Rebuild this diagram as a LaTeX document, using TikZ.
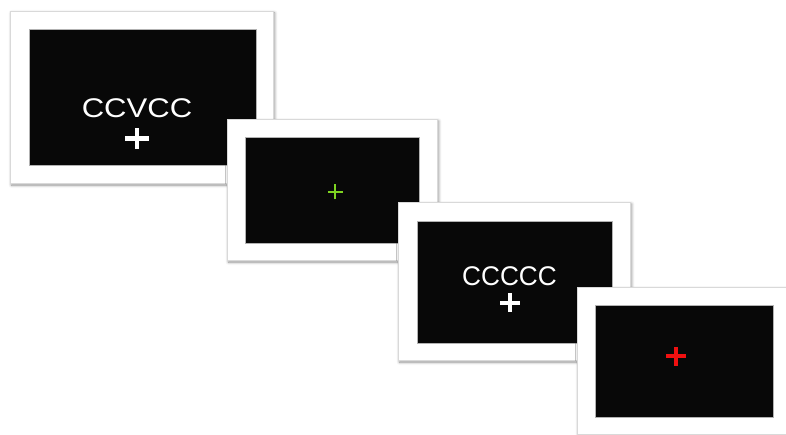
\documentclass[tikz,border=0pt]{standalone}
\usepackage{fontspec}
\setmainfont{Liberation Sans}
\usetikzlibrary{shadows.blur}
\definecolor{scr}{HTML}{080808}
\definecolor{fixgreen}{HTML}{7ED321}
\definecolor{fixred}{HTML}{F01010}
\tikzset{
  frame/.style={draw=gray!30, line width=0.6pt, fill=white, inner sep=0pt,
    blur shadow={shadow xshift=1.5pt, shadow yshift=-2pt, shadow opacity=45, shadow blur radius=3pt, shadow blur steps=6}},
  screen/.style={draw=gray!60, line width=0.5pt, fill=scr, inner sep=0pt},
  stim/.style={text=white, inner sep=0pt, font=\fontsize{27}{27}\selectfont},
  crossbar/.style={line width=#1, line cap=butt}
}
\begin{document}
\begin{tikzpicture}[x=1pt,y=-1pt]
\useasboundingbox (0,0) rectangle (786,435);
% card 1
\node[frame, minimum width=263pt, minimum height=172pt] (f1) at (141.5,97) {};
\node[screen, minimum width=227pt, minimum height=136pt] (s1) at (142.5,97) {};
\node[stim, anchor=base, xscale=1.15] (t1) at (137,118) {CCVCC};
\coordinate (c1) at (137,138.5);
\draw[white, crossbar=4.5pt] ([xshift=-12pt]c1) -- ([xshift=12pt]c1);
\draw[white, crossbar=4.5pt] ([yshift=-10.5pt]c1) -- ([yshift=10.5pt]c1);
% card 2
\node[frame, minimum width=210pt, minimum height=141pt] (f2) at (332,189.5) {};
\node[screen, minimum width=174pt, minimum height=106pt] (s2) at (332,190) {};
\coordinate (c2) at (335,192);
\draw[fixgreen, crossbar=2.6pt] ([xshift=-7.5pt]c2) -- ([xshift=7.5pt]c2);
\draw[fixgreen, crossbar=2.6pt] ([yshift=-7.5pt]c2) -- ([yshift=7.5pt]c2);
% card 3
\node[frame, minimum width=232pt, minimum height=158pt] (f3) at (514,281) {};
\node[screen, minimum width=195pt, minimum height=122pt] (s3) at (514.5,282) {};
\node[stim, anchor=base, xscale=0.97] (t3) at (509.5,286) {CCCCC};
\coordinate (c3) at (510,302.5);
\draw[white, crossbar=4pt] ([xshift=-10pt]c3) -- ([xshift=10pt]c3);
\draw[white, crossbar=4pt] ([yshift=-9.5pt]c3) -- ([yshift=9.5pt]c3);
% card 4
\node[frame, minimum width=212pt, minimum height=147pt] (f4) at (683,360.5) {};
\node[screen, minimum width=178pt, minimum height=112pt] (s4) at (684,361) {};
\coordinate (c4) at (676,356);
\draw[fixred, crossbar=4pt] ([xshift=-10pt]c4) -- ([xshift=10pt]c4);
\draw[fixred, crossbar=4pt] ([yshift=-9.5pt]c4) -- ([yshift=9.5pt]c4);
\end{tikzpicture}
\end{document}
